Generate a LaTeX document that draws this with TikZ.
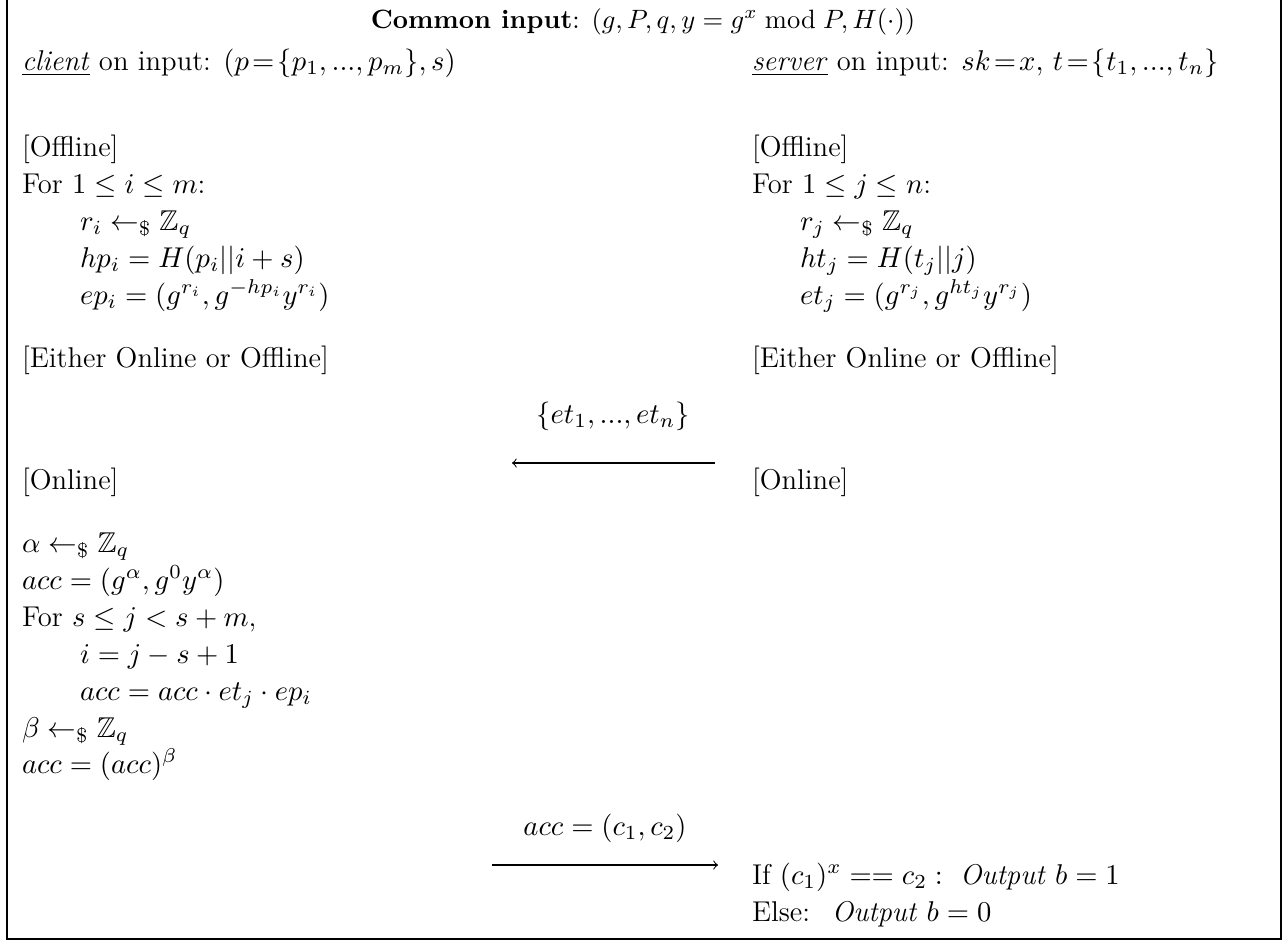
\RequirePackage{fix-cm}
\documentclass[tikz,border=0pt]{standalone}
\usepackage{amssymb}
\begin{document}
\begin{tikzpicture}[x=0.3846pt, y=-0.3846pt,
  body/.style={font=\fontsize{11}{13}\selectfont},
  txt/.style={body, anchor=base west, inner sep=0pt, outer sep=0pt},
  ctr/.style={body, anchor=base, inner sep=0pt, outer sep=0pt},
  hdr/.style={font=\fontsize{10.2}{12}\selectfont, anchor=base, inner sep=0pt, outer sep=0pt},
  msg/.style={->, line width=0.4pt},
  frame/.style={line width=0.6pt}]
\useasboundingbox (0,0) rectangle (1287,942);
\draw[frame] (7,-4) rectangle (1281,939);
% header
\node[hdr] (common) at (643,28) {\textbf{Common input}: $(g, P, q, y = g^x \bmod P, H(\cdot))$};
\node[txt] (client) at (22,70) {\underline{\textit{client}} on input: $(p\!=\!\{p_1, ..., p_m\}, s)$};
\node[txt] (server) at (752,70) {\underline{\textit{server}} on input: $sk\!=\!x,\, t\!=\!\{t_1, ..., t_n\}$};
% client offline
\node[txt] (coff) at (22,156) {[Offline]};
\node[txt] (cfor) at (22,193) {For $1 \le i \le m$:};
\node[txt] (cr) at (80,230) {$r_i \leftarrow_{\$} \mathbb{Z}_q$};
\node[txt] (chp) at (80,267) {$hp_i = H(p_i || i + s)$};
\node[txt] (cep) at (80,304) {$ep_i = (g^{r_i}, g^{-hp_i} y^{r_i})$};
% server offline
\node[txt] (soff) at (752,156) {[Offline]};
\node[txt] (sfor) at (752,193) {For $1 \le j \le n$:};
\node[txt] (sr) at (800,230) {$r_j \leftarrow_{\$} \mathbb{Z}_q$};
\node[txt] (sht) at (800,267) {$ht_j = H(t_j || j)$};
\node[txt] (set) at (800,304) {$et_j = (g^{r_j}, g^{ht_j} y^{r_j})$};
% either
\node[txt] (ceither) at (22,367) {[Either Online or Offline]};
\node[txt] (seither) at (752,367) {[Either Online or Offline]};
% message 1
\node[ctr] (m1) at (613,423) {$\{et_1, ..., et_n\}$};
\coordinate (m1s) at (715,463);
\coordinate (m1e) at (512,463);
\draw[msg] (m1s) -- (m1e);
% online
\node[txt] (con) at (22,489) {[Online]};
\node[txt] (son) at (752,489) {[Online]};
\node[txt] (calpha) at (22,552) {$\alpha \leftarrow_{\$} \mathbb{Z}_q$};
\node[txt] (cacc) at (22,589) {$acc = (g^{\alpha}, g^0 y^{\alpha})$};
\node[txt] (cfor2) at (22,626) {For $s \le j < s + m$,};
\node[txt] (ci) at (80,663) {$i = j - s + 1$};
\node[txt] (cacc2) at (80,700) {$acc = acc \cdot et_j \cdot ep_i$};
\node[txt] (cbeta) at (22,737) {$\beta \leftarrow_{\$} \mathbb{Z}_q$};
\node[txt] (cacc3) at (22,773) {$acc = (acc)^{\beta}$};
% message 2
\node[ctr] (m2) at (605,835) {$acc = (c_1, c_2)$};
\coordinate (m2s) at (492,865);
\coordinate (m2e) at (718,865);
\draw[msg] (m2s) -- (m2e);
\node[txt] (sif) at (752,884) {If $(c_1)^x == c_2:\;$ \textit{Output} $b = 1$};
\node[txt] (selse) at (752,921) {Else: \ \textit{Output} $b = 0$};
\end{tikzpicture}
\end{document}
